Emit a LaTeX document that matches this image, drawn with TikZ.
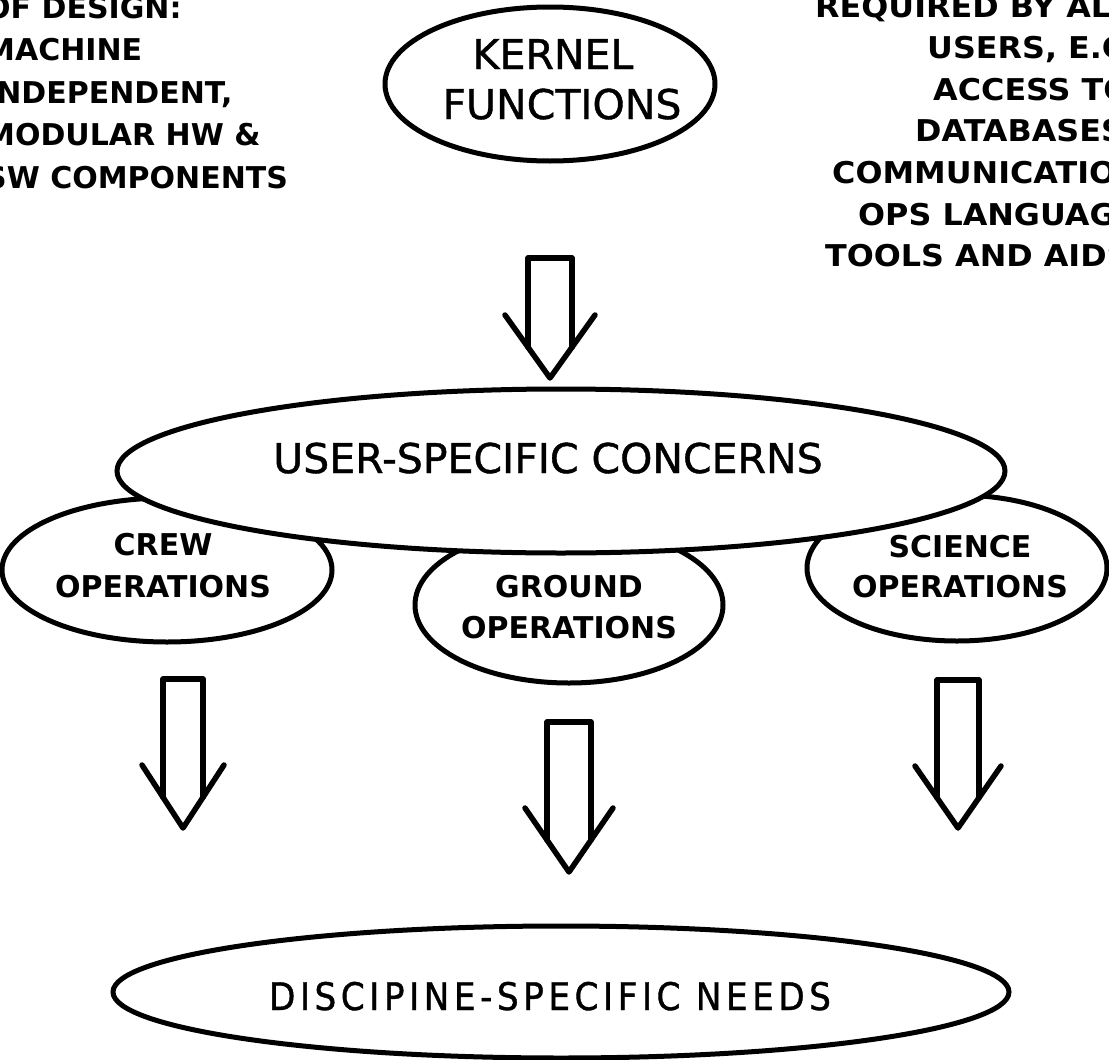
\documentclass[tikz,border=0pt]{standalone}
\usepackage{fontspec}
\setmainfont{DejaVu Sans}
\newfontfamily\bigfont[FakeBold=1]{DejaVu Sans}
\newfontfamily\discfont[FakeStretch=0.9,LetterSpace=12,FakeBold=1]{DejaVu Sans}
\newfontfamily\widenote[FakeStretch=1.06]{DejaVu Sans Bold}
\usetikzlibrary{shapes.geometric}

\tikzset{
  outline/.style={draw, line width=5pt, fill=white, ellipse, inner sep=0pt},
  arrowline/.style={draw, line width=5.5pt, line cap=round, line join=round},
  bigtext/.style={font=\bigfont\fontsize{41}{49}\selectfont, inner sep=0pt, anchor=base},
  disctext/.style={font=\discfont\fontsize{38}{44}\selectfont, inner sep=0pt, anchor=base},
  notetext/.style={font=\bfseries\fontsize{30}{42}\selectfont, inner sep=0pt, anchor=base west},
  rnotetext/.style={font=\widenote\fontsize{30}{42}\selectfont, inner sep=0pt, anchor=base west},
  optext/.style={font=\bfseries\fontsize{30}{42}\selectfont, inner sep=0pt, anchor=base},
}

% hollow block arrow pointing down:
% #1 centre x, #2 shaft top, #3 half shaft width, #4 half wing width, #5 wing y, #6 tip y
\newcommand\hollowdown[6]{%
  \pgfmathsetmacro\hjoin{#5+(#4-#3)/#4*(#6-#5)}%
  \draw[arrowline] (#1-#4,#5) -- (#1,#6) -- (#1+#4,#5);
  \draw[arrowline] (#1-#3,\hjoin) -- (#1-#3,#2) -- (#1+#3,#2) -- (#1+#3,\hjoin);
}

\begin{document}
\begin{tikzpicture}[x=1pt, y=-1pt]
\path[use as bounding box, clip] (0,0) rectangle (1109,1060);

% side notes
\node[notetext] (l1) at (-15,18)  {OF DESIGN:};
\node[notetext] (l2) at (-15,60)  {MACHINE};
\node[notetext] (l3) at (-15,103) {INDEPENDENT,};
\node[notetext] (l4) at (-15,145) {MODULAR HW \&};
\node[notetext] (l5) at (-15,188) {SW COMPONENTS};

\node[rnotetext] (r1) at (815,17)  {REQUIRED BY ALL};
\node[rnotetext] (r2) at (927,58)  {USERS, E.G.};
\node[rnotetext] (r3) at (933,100) {ACCESS TO};
\node[rnotetext] (r4) at (915,141) {DATABASES};
\node[rnotetext] (r5) at (832,183) {COMMUNICATIONS};
\node[rnotetext] (r6) at (858,225) {OPS LANGUAGE};
\node[rnotetext] (r7) at (825,266) {TOOLS AND AIDS};

% kernel
\node[outline, minimum width=330pt, minimum height=154pt] (kernel) at (550,84) {};
\node[bigtext] (kernelA) at (553,69)  {KERNEL};
\node[bigtext] (kernelB) at (562,119) {FUNCTIONS};

% block arrows
\hollowdown{550}{258}{22}{45}{315}{378}
\hollowdown{183}{679}{20}{41}{765}{828}
\hollowdown{569}{722}{22}{44}{808}{872}
\hollowdown{958}{680}{21}{43}{766}{828}

% operation ellipses, partly hidden behind the user ellipse
\node[outline, minimum width=330pt, minimum height=144pt] (crew) at (167,570) {};
\node[outline, minimum width=308pt, minimum height=156pt] (ground) at (569,605) {};
\node[outline, minimum width=300pt, minimum height=146pt] (science) at (957,568) {};

\node[outline, minimum width=888pt, minimum height=164pt] (user) at (561,471) {};
\node[bigtext] (userT) at (548,473) {USER-SPECIFIC CONCERNS};

\node[optext] (crewA) at (163,555) {CREW};
\node[optext] (crewB) at (163,597) {OPERATIONS};
\node[optext] (groundA) at (569,597) {GROUND};
\node[optext] (groundB) at (569,638) {OPERATIONS};
\node[optext] (scienceA) at (960,557) {SCIENCE};
\node[optext] (scienceB) at (960,597) {OPERATIONS};

% discipline ellipse
\node[outline, minimum width=896pt, minimum height=132pt] (disc) at (561,992) {};
\node[disctext] (discT) at (550,1010) {DISCIPINE-SPECIFIC NEEDS};
\end{tikzpicture}
\end{document}
